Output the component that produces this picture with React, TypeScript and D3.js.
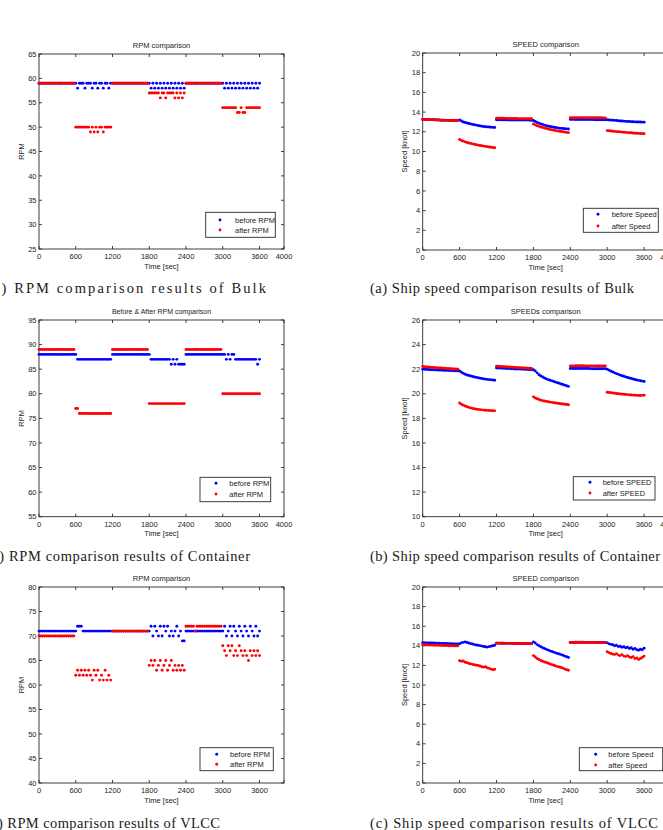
import React from 'react';
import * as d3 from 'd3';

// Sampling grid of the simulation logs (seconds)
const timeSec = d3.range(0, 3601, 30);
const timeTicks = [0, 600, 1200, 1800, 2400, 3000, 3600, 4000];

// ---------- Bulk carrier ----------
const bulkRpmBefore = [
  59,59,59,59,59,59,59,59,59,59,59,59,59,59,59,59,59,59,59,59,
  59,58,59,59,59,58,59,59,59,58,59,59,58,59,59,58,59,59,58,59,
  59,59,59,59,59,59,59,59,59,59,59,59,59,59,59,59,59,59,59,59,
  59,58,59,58,59,58,59,58,59,58,59,58,59,58,59,58,59,58,59,58,
  59,59,59,59,59,59,59,59,59,59,59,59,59,59,59,59,59,59,59,59,
  59,58,59,58,59,58,59,58,59,58,59,58,59,58,59,58,59,58,59,58,
  59,
];
const bulkRpmAfter = [
  59,59,59,59,59,59,59,59,59,59,59,59,59,59,59,59,59,59,59,59,
  50,50,50,50,50,50,50,50,49,50,49,50,49,50,50,49,50,50,50,50,
  59,59,59,59,59,59,59,59,59,59,59,59,59,59,59,59,59,59,59,59,
  57,57,57,57,57,57,56,57,57,56,57,57,57,57,56,57,56,57,56,57,
  59,59,59,59,59,59,59,59,59,59,59,59,59,59,59,59,59,59,59,59,
  54,54,54,54,54,54,54,54,53,53,54,53,53,54,54,54,54,54,54,54,
  54,
];
const bulkSpeedBefore = [
  13.25,13.25,13.25,13.25,13.24,13.24,13.23,13.22,13.2,13.2,13.18,13.17,13.16,13.16,13.15,13.15,13.15,13.15,13.14,13.14,
  13.2,13.1,13.0,12.95,12.9,12.85,12.8,12.75,12.72,12.68,12.64,12.6,12.57,12.54,12.52,12.5,12.48,12.46,12.45,12.44,
  13.22,13.22,13.22,13.21,13.21,13.21,13.21,13.2,13.2,13.2,13.2,13.2,13.2,13.19,13.19,13.19,13.19,13.19,13.18,13.18,
  13.15,13.05,12.95,12.88,12.8,12.74,12.68,12.63,12.58,12.54,12.5,12.46,12.43,12.4,12.37,12.35,12.33,12.31,12.3,12.28,
  13.26,13.26,13.26,13.25,13.25,13.25,13.25,13.25,13.24,13.24,13.24,13.24,13.24,13.23,13.23,13.23,13.23,13.22,13.22,13.22,
  13.22,13.2,13.19,13.18,13.16,13.14,13.12,13.1,13.09,13.08,13.06,13.05,13.04,13.03,13.02,13.01,13.0,13.0,12.99,12.98,
  12.98,
];
const bulkSpeedAfter = [
  13.25,13.25,13.25,13.25,13.24,13.24,13.23,13.22,13.2,13.2,13.18,13.17,13.16,13.16,13.15,13.15,13.15,13.15,13.14,13.14,
  11.22,11.12,11.05,10.98,10.92,10.87,10.82,10.77,10.73,10.69,10.65,10.61,10.58,10.55,10.52,10.49,10.46,10.43,10.41,10.38,
  13.38,13.38,13.37,13.37,13.37,13.36,13.36,13.36,13.35,13.35,13.35,13.35,13.34,13.34,13.34,13.33,13.33,13.33,13.32,13.32,
  12.8,12.7,12.62,12.55,12.49,12.43,12.38,12.33,12.28,12.24,12.2,12.16,12.12,12.09,12.06,12.03,12.0,11.97,11.94,11.92,
  13.42,13.42,13.43,13.43,13.43,13.44,13.44,13.44,13.44,13.44,13.43,13.43,13.43,13.43,13.42,13.42,13.42,13.42,13.41,13.41,
  12.12,12.1,12.08,12.06,12.04,12.02,12.0,11.99,11.97,11.96,11.94,11.92,11.91,11.9,11.88,11.86,11.85,11.84,11.82,11.81,
  11.8,
];

// ---------- Container ship ----------
const containerRpmBefore = [
  88,88,88,88,88,88,88,88,88,88,88,88,88,88,88,88,88,88,88,88,
  88,87,87,87,87,87,87,87,87,87,87,87,87,87,87,87,87,87,87,87,
  88,88,88,88,88,88,88,88,88,88,88,88,88,88,88,88,88,88,88,88,
  88,87,87,87,87,87,87,87,87,87,87,87,86,87,86,87,86,86,86,86,
  88,88,88,88,88,88,88,88,88,88,88,88,88,88,88,88,88,88,88,88,
  88,88,87,88,87,88,88,87,87,87,87,87,87,87,87,87,87,87,87,86,
  87,
];
const containerRpmAfter = [
  89,89,89,89,89,89,89,89,89,89,89,89,89,89,89,89,89,89,89,89,
  77,77,76,76,76,76,76,76,76,76,76,76,76,76,76,76,76,76,76,76,
  89,89,89,89,89,89,89,89,89,89,89,89,89,89,89,89,89,89,89,89,
  78,78,78,78,78,78,78,78,78,78,78,78,78,78,78,78,78,78,78,78,
  89,89,89,89,89,89,89,89,89,89,89,89,89,89,89,89,89,89,89,89,
  80,80,80,80,80,80,80,80,80,80,80,80,80,80,80,80,80,80,80,80,
  80,
];
const containerSpeedBefore = [
  22.0,21.99,21.98,21.97,21.96,21.95,21.95,21.94,21.93,21.92,21.92,21.91,21.9,21.9,21.89,21.88,21.88,21.87,21.86,21.86,
  21.85,21.75,21.66,21.59,21.53,21.48,21.44,21.4,21.36,21.33,21.3,21.27,21.24,21.21,21.19,21.17,21.15,21.13,21.12,21.1,
  22.1,22.1,22.09,22.08,22.07,22.06,22.05,22.05,22.04,22.03,22.02,22.02,22.01,22.0,22.0,21.99,21.98,21.97,21.96,21.95,
  21.95,21.85,21.7,21.55,21.45,21.36,21.28,21.21,21.15,21.1,21.05,21.0,20.95,20.9,20.85,20.8,20.75,20.7,20.65,20.6,
  22.06,22.06,22.06,22.05,22.05,22.05,22.05,22.05,22.05,22.05,22.05,22.04,22.04,22.04,22.04,22.04,22.04,22.04,22.03,22.03,
  22.0,21.92,21.84,21.77,21.7,21.64,21.58,21.52,21.47,21.42,21.37,21.32,21.28,21.24,21.2,21.16,21.12,21.09,21.06,21.03,
  21.0,
];
const containerSpeedAfter = [
  22.22,22.2,22.19,22.18,22.17,22.15,22.14,22.13,22.12,22.1,22.09,22.08,22.07,22.06,22.05,22.04,22.03,22.02,22.01,22.0,
  19.25,19.15,19.07,19.0,18.94,18.89,18.85,18.81,18.78,18.75,18.73,18.71,18.69,18.67,18.66,18.65,18.64,18.63,18.62,18.61,
  22.25,22.24,22.23,22.22,22.21,22.2,22.19,22.18,22.17,22.16,22.15,22.14,22.13,22.12,22.11,22.1,22.09,22.08,22.07,22.06,
  19.75,19.66,19.59,19.53,19.48,19.44,19.41,19.38,19.35,19.32,19.3,19.27,19.25,19.23,19.21,19.19,19.17,19.15,19.13,19.11,
  22.27,22.27,22.27,22.28,22.28,22.28,22.28,22.28,22.27,22.27,22.27,22.27,22.27,22.27,22.26,22.26,22.26,22.26,22.26,22.26,
  20.12,20.1,20.08,20.06,20.04,20.02,20.0,19.99,19.97,19.96,19.94,19.93,19.91,19.9,19.89,19.88,19.87,19.86,19.86,19.87,
  19.88,
];

// ---------- VLCC ----------
const vlccRpmBefore = [
  71,71,71,71,71,71,71,71,71,71,71,71,71,71,71,71,71,71,71,71,
  71,72,72,72,71,71,71,71,71,71,71,71,71,71,71,71,71,71,71,71,
  71,71,71,71,71,71,71,71,71,71,71,71,71,71,71,71,71,71,71,71,
  71,72,70,72,71,70,72,70,72,71,72,70,71,70,71,72,70,71,69,69,
  71,71,71,71,71,71,71,71,71,71,71,71,71,71,71,71,71,71,71,71,
  71,72,70,71,72,70,72,71,70,72,71,70,72,71,70,72,71,70,72,70,
  71,
];
const vlccRpmAfter = [
  70,70,70,70,70,70,70,70,70,70,70,70,70,70,70,70,70,70,70,70,
  62,63,62,63,62,63,62,63,62,61,63,62,63,61,62,61,63,61,62,61,
  71,71,71,71,71,71,71,71,71,71,71,71,71,71,71,71,71,71,71,71,
  64,65,64,65,63,64,65,63,64,65,63,64,65,63,64,63,64,63,64,63,
  72,72,72,72,72,71,72,72,72,72,72,72,72,72,72,72,72,72,72,72,
  68,67,66,68,67,68,66,67,66,68,67,66,67,66,65,67,66,67,66,67,
  66,
];
const vlccSpeedBefore = [
  14.32,14.31,14.3,14.3,14.29,14.28,14.28,14.27,14.26,14.26,14.25,14.25,14.24,14.23,14.22,14.22,14.21,14.2,14.2,14.19,
  14.22,14.3,14.35,14.4,14.33,14.28,14.22,14.18,14.12,14.08,14.05,14.02,13.97,13.93,13.9,13.86,13.92,13.95,14.0,14.05,
  14.27,14.27,14.26,14.26,14.26,14.25,14.25,14.25,14.25,14.24,14.24,14.24,14.24,14.23,14.23,14.23,14.22,14.22,14.22,14.22,
  14.4,14.28,14.12,14.0,13.9,13.8,13.72,13.64,13.56,13.48,13.42,13.35,13.28,13.22,13.16,13.1,13.03,12.95,12.88,12.8,
  14.35,14.35,14.35,14.36,14.36,14.36,14.36,14.36,14.35,14.35,14.35,14.35,14.35,14.35,14.34,14.34,14.34,14.34,14.34,14.34,
  14.3,14.2,14.15,14.1,14.0,14.05,13.92,13.95,13.85,13.9,13.8,13.85,13.72,13.8,13.65,13.72,13.6,13.55,13.65,13.6,
  13.75,
];
const vlccSpeedAfter = [
  14.1,14.1,14.09,14.08,14.08,14.07,14.06,14.06,14.05,14.05,14.04,14.03,14.03,14.02,14.01,14.01,14.0,14.0,13.99,13.99,
  12.48,12.42,12.45,12.32,12.28,12.2,12.16,12.1,12.06,12.02,12.0,11.94,11.86,11.82,11.86,11.75,11.7,11.62,11.55,11.6,
  14.27,14.27,14.26,14.26,14.26,14.25,14.25,14.25,14.25,14.24,14.24,14.24,14.24,14.23,14.23,14.23,14.22,14.22,14.22,14.22,
  13.0,12.85,12.7,12.6,12.5,12.42,12.35,12.3,12.22,12.14,12.08,12.02,11.95,11.88,11.84,11.78,11.72,11.62,11.55,11.5,
  14.33,14.33,14.33,14.34,14.34,14.34,14.34,14.34,14.33,14.33,14.33,14.33,14.33,14.33,14.32,14.32,14.32,14.32,14.32,14.32,
  13.4,13.3,13.22,13.15,13.1,13.2,13.05,13.0,13.1,12.95,12.9,13.0,12.85,12.8,12.9,12.7,12.75,12.6,12.7,12.8,
  12.95,
];

// Axis tick values
const bulkRpmTicks = [25, 30, 35, 40, 45, 50, 55, 60, 65];
const containerRpmTicks = [55, 60, 65, 70, 75, 80, 85, 90, 95];
const vlccRpmTicks = [40, 45, 50, 55, 60, 65, 70, 75, 80];
const speedTicks20 = [0, 2, 4, 6, 8, 10, 12, 14, 16, 18, 20];
const speedTicks26 = [10, 12, 14, 16, 18, 20, 22, 24, 26];

const BLUE = '#0000ff';
const RED = '#ff0000';
const AXIS_FONT = "'Liberation Sans', Arial, sans-serif";
const CAPTION_FONT = "'Liberation Serif', 'Times New Roman', serif";

type Legend = { x: number; y: number; w: number; h: number; mx: number; tx: number; r1: number; r2: number };
type Caption = { text: string; x: number; y: number; len: number };
type PanelSpec = {
  key: string;
  left: number; right: number; top: number; bottom: number;
  yDomain: [number, number];
  yTicks: number[];
  title: string; titleSize: number;
  yLabel: string;
  before: number[]; after: number[];
  labels: [string, string];
  legend: Legend;
  showLastTick: boolean;
  caption: Caption;
};

const panels: PanelSpec[] = [
  {
    key: 'bulk-rpm', left: 39, right: 284, top: 54, bottom: 249,
    yDomain: [25, 65], yTicks: bulkRpmTicks, title: 'RPM comparison', titleSize: 7.5, yLabel: 'RPM',
    before: bulkRpmBefore, after: bulkRpmAfter, labels: ['before RPM', 'after RPM'],
    legend: { x: 205.7, y: 212.3, w: 69.6, h: 25, mx: 220, tx: 235, r1: 220, r2: 230 },
    showLastTick: true,
    caption: { text: '(a) RPM comparison results of Bulk', x: -14, y: 293, len: 280 },
  },
  {
    key: 'bulk-speed', left: 422.7, right: 668.7, top: 53, bottom: 250,
    yDomain: [0, 20], yTicks: speedTicks20, title: 'SPEED comparison', titleSize: 7.5, yLabel: 'Speed [knot]',
    before: bulkSpeedBefore, after: bulkSpeedAfter, labels: ['before Speed', 'after Speed'],
    legend: { x: 583.3, y: 208.3, w: 75, h: 24, mx: 598, tx: 611.7, r1: 214.3, r2: 226 },
    showLastTick: true,
    caption: { text: '(a) Ship speed comparison results of Bulk', x: 370, y: 293, len: 264 },
  },
  {
    key: 'container-rpm', left: 39, right: 284, top: 320, bottom: 516.7,
    yDomain: [55, 95], yTicks: containerRpmTicks, title: 'Before & After RPM comparison', titleSize: 7, yLabel: 'RPM',
    before: containerRpmBefore, after: containerRpmAfter, labels: ['before RPM', 'after RPM'],
    legend: { x: 200, y: 477.3, w: 70.7, h: 24.4, mx: 216, tx: 229.3, r1: 483.3, r2: 494 },
    showLastTick: true,
    caption: { text: '(b) RPM comparison results of Container', x: -14, y: 561, len: 264 },
  },
  {
    key: 'container-speed', left: 422.7, right: 668.7, top: 320, bottom: 516.7,
    yDomain: [10, 26], yTicks: speedTicks26, title: 'SPEEDs comparison', titleSize: 7.5, yLabel: 'Speed [knot]',
    before: containerSpeedBefore, after: containerSpeedAfter, labels: ['before SPEED', 'after SPEED'],
    legend: { x: 573.3, y: 476.7, w: 81.7, h: 23.3, mx: 590, tx: 602.7, r1: 482.3, r2: 493 },
    showLastTick: true,
    caption: { text: '(b) Ship speed comparison results of Container', x: 370, y: 561, len: 290 },
  },
  {
    key: 'vlcc-rpm', left: 39, right: 284, top: 587, bottom: 783,
    yDomain: [40, 80], yTicks: vlccRpmTicks, title: 'RPM comparison', titleSize: 7.5, yLabel: 'RPM',
    before: vlccRpmBefore, after: vlccRpmAfter, labels: ['before RPM', 'after RPM'],
    legend: { x: 200, y: 747.7, w: 73.3, h: 23, mx: 216.7, tx: 230, r1: 754.3, r2: 764.3 },
    showLastTick: false,
    caption: { text: '(c) RPM comparison results of VLCC', x: -14, y: 828, len: 234 },
  },
  {
    key: 'vlcc-speed', left: 422.7, right: 668.7, top: 587, bottom: 783,
    yDomain: [0, 20], yTicks: speedTicks20, title: 'SPEED comparison', titleSize: 7.5, yLabel: 'Speed [knot]',
    before: vlccSpeedBefore, after: vlccSpeedAfter, labels: ['before Speed', 'after Speed'],
    legend: { x: 579.3, y: 747.7, w: 83.4, h: 23, mx: 595.7, tx: 608.3, r1: 754.3, r2: 765 },
    showLastTick: false,
    caption: { text: '(c) Ship speed comparison results of VLCC', x: 370, y: 828, len: 288 },
  },
];

const TICK = 3;
const DOT_R = 1.45;

function Panel({ p }: { p: PanelSpec }) {
  const x = d3.scaleLinear().domain([0, 4000]).range([p.left, p.right]);
  const y = d3.scaleLinear().domain(p.yDomain).range([p.bottom, p.top]);
  const cx = (p.left + p.right) / 2;
  const cy = (p.top + p.bottom) / 2;
  const axisColor = '#2a2a2a';
  const textColor = '#222';

  return (
    <g>
      {/* plot box */}
      <rect x={p.left} y={p.top} width={p.right - p.left} height={p.bottom - p.top}
        fill="#fff" stroke={axisColor} strokeWidth={0.9} />

      {/* x ticks (bottom and top, pointing inward) */}
      {timeTicks.map((t) => (
        <g key={`xt${t}`}>
          <line x1={x(t)} x2={x(t)} y1={p.bottom} y2={p.bottom - TICK} stroke={axisColor} strokeWidth={0.9} />
          <line x1={x(t)} x2={x(t)} y1={p.top} y2={p.top + TICK} stroke={axisColor} strokeWidth={0.9} />
          {(t < 4000 || p.showLastTick) && (
            <text x={x(t)} y={p.bottom + 10} textAnchor="middle" fontSize={7.5}
              fontFamily={AXIS_FONT} fill={textColor}>{t}</text>
          )}
        </g>
      ))}

      {/* y ticks (left and right, pointing inward) */}
      {p.yTicks.map((v) => (
        <g key={`yt${v}`}>
          <line x1={p.left} x2={p.left + TICK} y1={y(v)} y2={y(v)} stroke={axisColor} strokeWidth={0.9} />
          <line x1={p.right} x2={p.right - TICK} y1={y(v)} y2={y(v)} stroke={axisColor} strokeWidth={0.9} />
          <text x={p.left - 2.5} y={y(v)} dy="0.35em" textAnchor="end" fontSize={7.5}
            fontFamily={AXIS_FONT} fill={textColor}>{v}</text>
        </g>
      ))}

      {/* data: before first, after drawn on top */}
      <g fill={BLUE}>
        {p.before.map((v, i) => (
          <circle key={`b${i}`} cx={x(timeSec[i])} cy={y(v)} r={DOT_R} />
        ))}
      </g>
      <g fill={RED}>
        {p.after.map((v, i) => (
          <circle key={`a${i}`} cx={x(timeSec[i])} cy={y(v)} r={DOT_R} />
        ))}
      </g>

      {/* title and axis labels */}
      <text x={cx} y={p.top - 6} textAnchor="middle" fontSize={p.titleSize}
        fontFamily={AXIS_FONT} fill={textColor}>{p.title}</text>
      <text x={cx} y={p.bottom + 19.5} textAnchor="middle" fontSize={7.5}
        fontFamily={AXIS_FONT} fill={textColor}>Time [sec]</text>
      <text transform={`translate(${p.left - 18},${cy}) rotate(-90)`} dy="0.35em" textAnchor="middle"
        fontSize={7.5} fontFamily={AXIS_FONT} fill={textColor}>{p.yLabel}</text>

      {/* legend */}
      <rect x={p.legend.x} y={p.legend.y} width={p.legend.w} height={p.legend.h}
        fill="#fff" stroke={axisColor} strokeWidth={0.9} />
      <circle cx={p.legend.mx} cy={p.legend.r1} r={DOT_R} fill={BLUE} />
      <circle cx={p.legend.mx} cy={p.legend.r2} r={DOT_R} fill={RED} />
      <text x={p.legend.tx} y={p.legend.r1} dy="0.35em" fontSize={7.5}
        fontFamily={AXIS_FONT} fill={textColor}>{p.labels[0]}</text>
      <text x={p.legend.tx} y={p.legend.r2} dy="0.35em" fontSize={7.5}
        fontFamily={AXIS_FONT} fill={textColor}>{p.labels[1]}</text>

      {/* figure caption */}
      <text x={p.caption.x} y={p.caption.y} fontSize={14.5} fontFamily={CAPTION_FONT}
        fill="#1a1a1a" textLength={p.caption.len} lengthAdjust="spacing">{p.caption.text}</text>
    </g>
  );
}

export default function App() {
  return (
    <div style={{ position: 'absolute', left: 0, top: 0, width: 663, height: 830, background: '#fff' }}>
      <svg width={663} height={830} viewBox="0 0 663 830" style={{ display: 'block' }}>
        <rect x={0} y={0} width={663} height={830} fill="#fff" />
        {panels.map((p) => (
          <Panel key={p.key} p={p} />
        ))}
      </svg>
    </div>
  );
}
